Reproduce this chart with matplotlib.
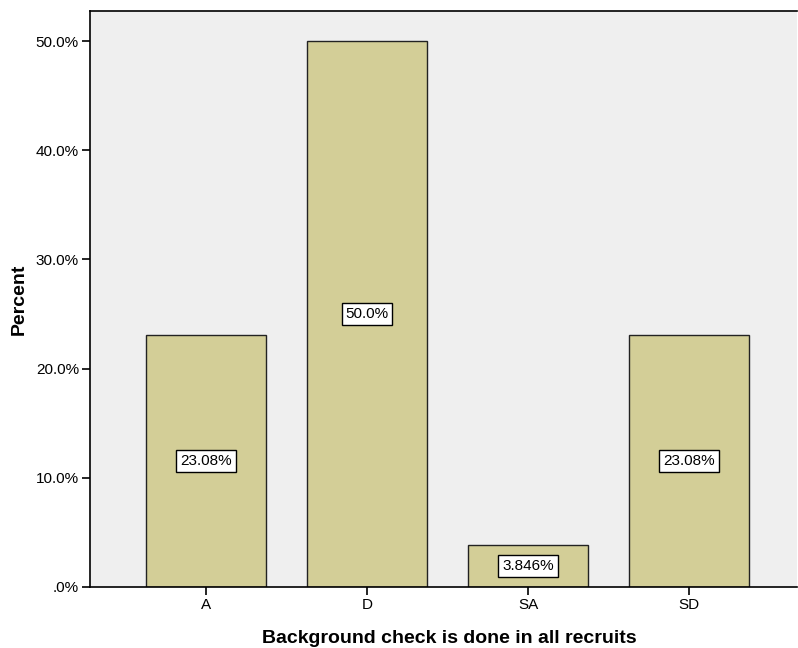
import matplotlib
matplotlib.use("Agg")
import matplotlib.pyplot as plt

categories = ["A", "D", "SA", "SD"]
percents = [23.08, 50.0, 3.846, 23.08]
bar_labels = ["23.08%", "50.0%", "3.846%", "23.08%"]
ytick_vals = [0, 10, 20, 30, 40, 50]
ytick_labels = [".0%", "10.0%", "20.0%", "30.0%", "40.0%", "50.0%"]

plt.rcParams['font.family'] = ['Liberation Sans', 'DejaVu Sans']

fig = plt.figure(figsize=(7.98, 6.48), dpi=100)
ax = fig.add_axes([90/798, 61/648, 707/798, 576/648])
ax.set_facecolor("#efefef")

x = list(range(len(categories)))
ax.bar(x, percents, width=0.745, color="#d3ce97", edgecolor="#222222", linewidth=1.0, zorder=2)
for xi, v, lab in zip(x, percents, bar_labels):
    ax.text(xi, v / 2, lab, ha="center", va="center", fontsize=11, zorder=3,
            bbox=dict(boxstyle="square,pad=0.25", facecolor="white", edgecolor="black", linewidth=1.0))

ax.set_xlim(-0.72, 3.67)
ax.set_ylim(0, 52.75)
ax.set_xticks(x)
ax.set_xticklabels(categories, fontsize=11)
ax.set_yticks(ytick_vals)
ax.set_yticklabels(ytick_labels, fontsize=11)
ax.tick_params(axis="both", direction="out", length=6, width=1.2, color="black", pad=2)

for s in ["left", "bottom", "top"]:
    ax.spines[s].set_linewidth(1.2)
    ax.spines[s].set_color("black")
ax.spines["right"].set_visible(False)

ax.set_xlabel("Background check is done in all recruits", fontsize=14, fontweight="bold", labelpad=13)
ax.xaxis.label.set_x(0.508)
ax.set_ylabel("Percent", fontsize=14, fontweight="bold", labelpad=6)

fig.savefig("out.png", dpi=100)
